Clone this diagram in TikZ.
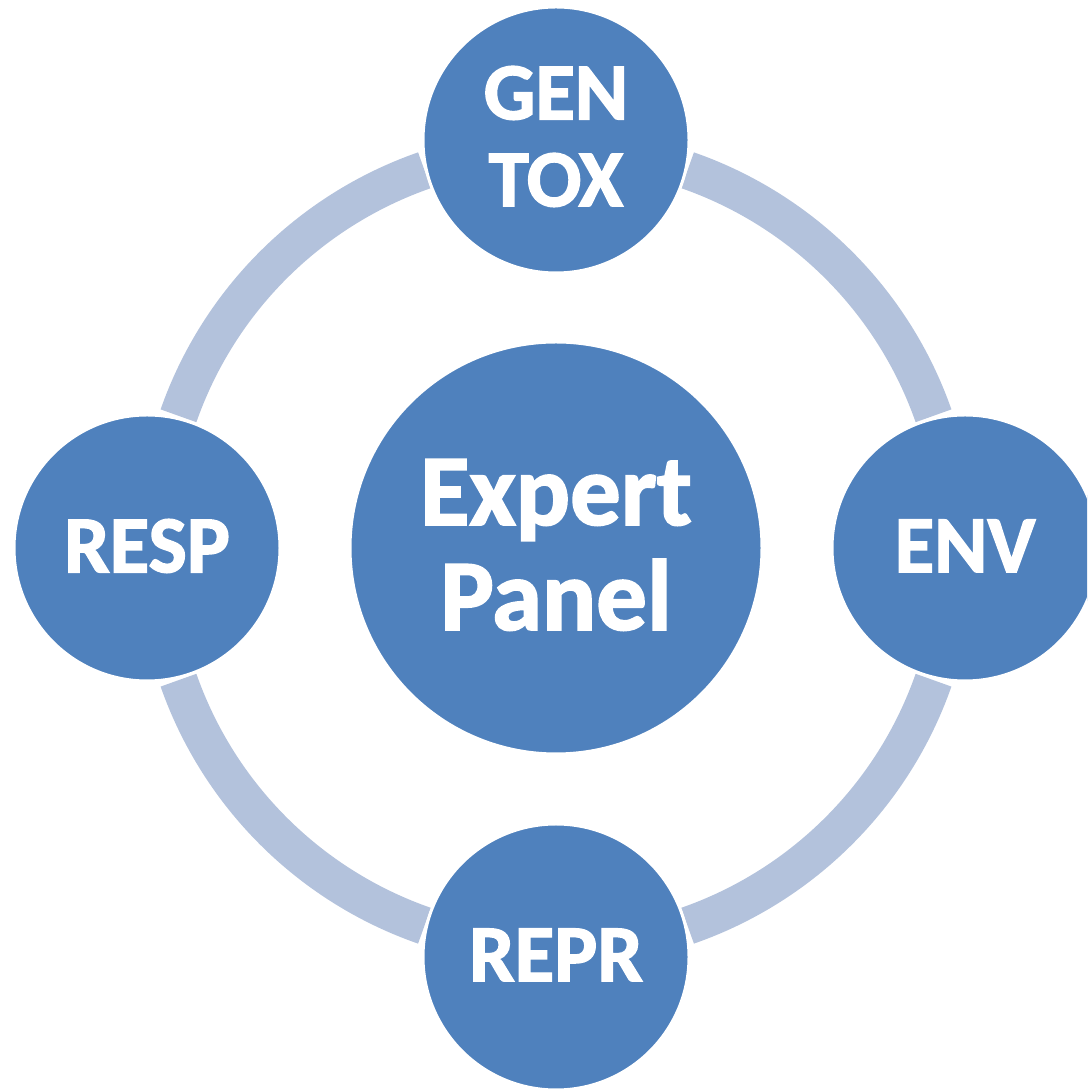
\documentclass[tikz,border=0pt]{standalone}
\usepackage{fontspec}
\setmainfont{Carlito}
\newfontfamily\heavyfont{Carlito Bold}[FakeBold=1.8]
\definecolor{circblue}{HTML}{4F81BD}
\definecolor{ringblue}{HTML}{B3C2DC}
\tikzset{
  ringarc/.style={draw=ringblue, line width=38pt, line cap=butt},
  smallcirc/.style={circle, fill=circblue, draw=white, line width=3pt, minimum size=266pt, inner sep=0pt},
  bigcirc/.style={circle, fill=circblue, draw=white, line width=3pt, minimum size=412pt, inner sep=0pt},
  smalllbl/.style={inner sep=0pt, text=white, align=center, font=\heavyfont\fontsize{81}{87}\selectfont},
  biglbl/.style={inner sep=0pt, text=white, align=center, font=\heavyfont\fontsize{101}{105}\selectfont}
}
\begin{document}
\begin{tikzpicture}[x=1pt,y=1pt]
\useasboundingbox (0,0) rectangle (1087,1089);
\clip (0,0) rectangle (1087,1089);
\coordinate (c) at (556,541);
\foreach \a in {19.3,109.2,199.3,289.2}{
  \draw[ringarc] ([shift={(\a:400)}]c) arc[start angle=\a, end angle=\a+51.5, radius=400];
}
\node[bigcirc] (ep) at (c) {};
\node[smallcirc] (gen) at (556,949) {};
\node[smallcirc] (resp) at (147,541) {};
\node[smallcirc] (env) at (965,541) {};
\node[smallcirc] (repr) at (556,132) {};
\node[biglbl] (eplbl) at ([yshift=3pt]ep.center) {Expert\\Panel};
\node[smalllbl] (genlbl) at ([yshift=3.5pt]gen.center) {GEN\\TOX};
\node[smalllbl] (resplbl) at ([yshift=2pt]resp.center) {RESP};
\node[smalllbl] (envlbl) at ([yshift=2pt]env.center) {ENV};
\node[smalllbl] (reprlbl) at ([yshift=2pt]repr.center) {REPR};
\end{tikzpicture}
\end{document}
